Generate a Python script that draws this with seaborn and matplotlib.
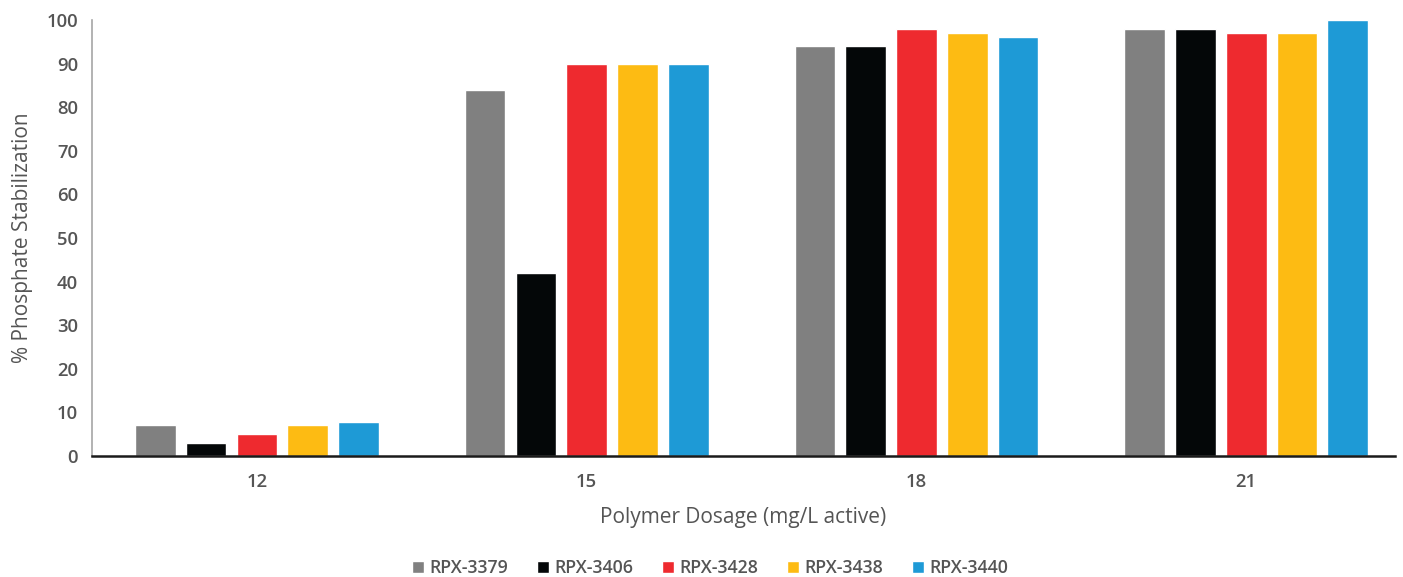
import matplotlib
matplotlib.use("Agg")
import matplotlib.pyplot as plt
import seaborn as sns
import pandas as pd

dosages = ["12", "15", "18", "21"]
polymers = ["RPX-3379", "RPX-3406", "RPX-3428", "RPX-3438", "RPX-3440"]
rpx_3379 = [7, 84, 94, 98]
rpx_3406 = [3, 42, 94, 98]
rpx_3428 = [5, 90, 98, 97]
rpx_3438 = [7, 90, 97, 97]
rpx_3440 = [7.7, 90, 96, 100]
colors = ["#808080", "#040708", "#EE2A2F", "#FDBB13", "#1E9AD6"]

series = [rpx_3379, rpx_3406, rpx_3428, rpx_3438, rpx_3440]
rows = []
for name, vals in zip(polymers, series):
    for d, v in zip(dosages, vals):
        rows.append({"Dosage": d, "Polymer": name, "Value": v})
df = pd.DataFrame(rows)

sns.set_theme(style="white")
plt.rcParams["font.family"] = ["Open Sans", "DejaVu Sans"]
plt.rcParams["font.weight"] = "semibold"
text_color = "#555555"

fig = plt.figure(figsize=(14.03, 5.77), dpi=100)
ax = fig.add_axes([0.0656, 0.2097, 0.9284, 0.7556])

sns.barplot(data=df, x="Dosage", y="Value", hue="Polymer", order=dosages,
            hue_order=polymers, palette=colors, width=0.77, gap=0.2,
            saturation=1, ax=ax, legend=True)

ax.set_ylim(0, 100)
ax.set_xlim(-0.5, 3.45)
ax.set_yticks(range(0, 101, 10))
ax.tick_params(axis="y", length=0, labelsize=13.3, labelcolor=text_color, pad=10)
ax.tick_params(axis="x", length=0, labelsize=13.3, labelcolor=text_color, pad=12)
ax.set_ylabel("% Phosphate Stabilization", fontsize=15, color=text_color, labelpad=10)
ax.set_xlabel("Polymer Dosage (mg/L active)", fontsize=15, color=text_color, labelpad=12)

for side in ["top", "right"]:
    ax.spines[side].set_visible(False)
ax.spines["left"].set_color("#a6a6a6")
ax.spines["left"].set_linewidth(1.2)
ax.spines["bottom"].set_color("#1a1a1a")
ax.spines["bottom"].set_linewidth(1.8)

handles, labels = ax.get_legend_handles_labels()
ax.legend(handles, labels, loc="center", bbox_to_anchor=(0.4745, -0.258),
          ncol=5, frameon=False, fontsize=12.8, handlelength=0.65, handleheight=0.65,
          handletextpad=0.3, columnspacing=1.65, labelcolor=text_color)

fig.savefig("out.png", dpi=100, facecolor="white")
